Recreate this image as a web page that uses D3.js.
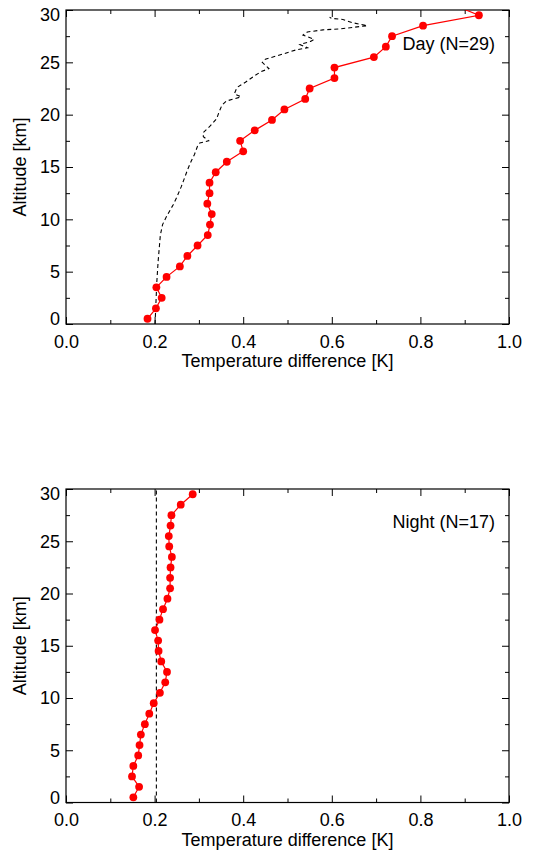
<!DOCTYPE html>
<html>
<head>
<meta charset="utf-8">
<script src="https://cdn.jsdelivr.net/npm/d3@7"></script>
<style>
  body { margin: 0; background: #fff; }
  text { font-family: "Liberation Sans", Arial, sans-serif; }
</style>
</head>
<body>
<div class="canva"></div>
<script>
// altitudes of the red profiles (km)
const dayAlt = [0.5, 1.5, 2.5, 3.5, 4.5, 5.5, 6.5, 7.5, 8.5, 9.5, 10.5, 11.5, 12.5, 13.5, 14.5,
    15.5, 16.5, 17.5, 18.5, 19.5, 20.5, 21.5, 22.5, 23.5, 24.5, 25.5, 26.5, 27.5, 28.5, 29.5, 30.5];
const dayMean = [0.184, 0.203, 0.216, 0.204, 0.227, 0.257, 0.274, 0.297, 0.320, 0.325, 0.329, 0.319,
    0.324, 0.324, 0.338, 0.363, 0.400, 0.393, 0.426, 0.465, 0.493, 0.540, 0.550, 0.606, 0.606, 0.695,
    0.722, 0.736, 0.806, 0.932, 0.874];

// dashed day reference
const dayRefAlt = [0, 2, 4, 6, 7.5, 8.5, 9.5, 10.2, 10.8, 11.4, 12.1, 13.1, 14.0, 14.8, 15.6, 16.2,
    17.0, 17.3, 17.5, 17.9, 18.3, 18.9, 19.6, 20.2, 20.9, 21.3, 21.7, 22.0, 22.6, 23.1, 23.7, 24.1,
    24.4, 25.0, 25.3, 25.8, 26.2, 26.4, 26.7, 27.0, 27.2, 27.6, 27.9, 28.1, 28.2, 28.5, 28.8, 29.1,
    29.2, 29.3];
const dayRef = [0.201, 0.203, 0.205, 0.208, 0.211, 0.213, 0.218, 0.226, 0.234, 0.242, 0.250, 0.260,
    0.268, 0.275, 0.283, 0.290, 0.297, 0.302, 0.322, 0.310, 0.310, 0.325, 0.340, 0.345, 0.352, 0.362,
    0.395, 0.380, 0.386, 0.405, 0.425, 0.440, 0.458, 0.443, 0.450, 0.490, 0.520, 0.545, 0.528, 0.552,
    0.560, 0.535, 0.545, 0.580, 0.620, 0.680, 0.645, 0.625, 0.600, 0.595];

const nightAlt = [0.5, 1.5, 2.5, 3.5, 4.5, 5.5, 6.5, 7.5, 8.5, 9.5, 10.5, 11.5, 12.5, 13.5, 14.5,
    15.5, 16.5, 17.5, 18.5, 19.5, 20.5, 21.5, 22.5, 23.5, 24.5, 25.5, 26.5, 27.5, 28.5, 29.5];
const nightMean = [0.152, 0.165, 0.149, 0.152, 0.163, 0.166, 0.169, 0.178, 0.188, 0.198, 0.212, 0.224,
    0.228, 0.215, 0.209, 0.208, 0.201, 0.211, 0.219, 0.229, 0.235, 0.235, 0.236, 0.239, 0.233, 0.232,
    0.236, 0.238, 0.259, 0.286];

const nightRefAlt = [0, 30];
const nightRef = [0.204, 0.204];

const xMajor = [0, 0.2, 0.4, 0.6, 0.8, 1.0];
const xMinor = [0.1, 0.3, 0.5, 0.7, 0.9];
const yMajor = [0, 5, 10, 15, 20, 25, 30];
const yMinor = [2.5, 7.5, 12.5, 17.5, 22.5, 27.5];

const svg = d3.select(".canva").append("svg")
    .attr("width", 533)
    .attr("height", 850);

const left = 66, right = 509;

function panel(top, bottom, label, alt, mean, refAlt, ref, id) {
    const x = d3.scaleLinear().domain([0, 1]).range([left, right]);
    const y = d3.scaleLinear().domain([0, 30]).range([bottom, top]);
    const g = svg.append("g");

    g.append("clipPath").attr("id", id)
        .append("rect")
        .attr("x", left).attr("y", top)
        .attr("width", right - left).attr("height", bottom - top);

    // axes, ticks point inward
    const addAxis = (axis, tr, vals, size, labels) => {
        const a = g.append("g")
            .attr("transform", tr)
            .call(axis.tickValues(vals).tickSize(-size).tickSizeOuter(0)
                .tickFormat(labels ? labels : ""));
        a.select(".domain").remove();
        a.selectAll("line").attr("stroke", "#000");
        return a;
    };

    const xb = addAxis(d3.axisBottom(x).tickPadding(11), `translate(0,${bottom})`, xMajor, 7, d3.format(".1f"));
    addAxis(d3.axisBottom(x), `translate(0,${bottom})`, xMinor, 4);
    addAxis(d3.axisTop(x), `translate(0,${top})`, xMajor, 7);
    addAxis(d3.axisTop(x), `translate(0,${top})`, xMinor, 4);
    const yl = addAxis(d3.axisLeft(y).tickPadding(6), `translate(${left},0)`, yMajor, 7, d3.format("d"));
    addAxis(d3.axisLeft(y), `translate(${left},0)`, yMinor, 4);
    addAxis(d3.axisRight(y), `translate(${right},0)`, yMajor, 7);
    addAxis(d3.axisRight(y), `translate(${right},0)`, yMinor, 4);

    xb.selectAll("text").attr("font-size", 18).attr("fill", "#000")
        .attr("font-family", "Liberation Sans, Arial, sans-serif");
    yl.selectAll("text").attr("font-size", 18).attr("fill", "#000")
        .attr("font-family", "Liberation Sans, Arial, sans-serif");
    // end labels kept inside the box like IDL does
    yl.selectAll(".tick text").filter(d => d === 0).attr("dy", "0.05em");
    yl.selectAll(".tick text").filter(d => d === 30).attr("dy", "0.6em");

    g.append("rect")
        .attr("x", left).attr("y", top)
        .attr("width", right - left).attr("height", bottom - top)
        .attr("fill", "none").attr("stroke", "#000").attr("stroke-width", 1.2);

    const plot = g.append("g").attr("clip-path", `url(#${id})`);

    const refLine = d3.line().x(d => x(d[0])).y(d => y(d[1]));
    plot.append("path")
        .datum(ref.map((v, i) => [v, refAlt[i]]))
        .attr("d", refLine)
        .attr("fill", "none")
        .attr("stroke", "#000")
        .attr("stroke-width", 1.1)
        .attr("stroke-dasharray", "4,3");

    const pts = mean.map((v, i) => [v, alt[i]]);
    plot.append("path")
        .datum(pts)
        .attr("d", refLine)
        .attr("fill", "none")
        .attr("stroke", "#ff0000")
        .attr("stroke-width", 1.2);

    plot.selectAll("circle")
        .data(pts)
        .enter().append("circle")
        .attr("cx", d => x(d[0]))
        .attr("cy", d => y(d[1]))
        .attr("r", 3.9)
        .attr("fill", "#ff0000");

    g.append("text")
        .attr("x", right - 14)
        .attr("y", top + label[1])
        .attr("text-anchor", "end")
        .attr("font-size", 18)
        .text(label[0]);

    g.append("text")
        .attr("x", (left + right) / 2)
        .attr("y", bottom + 43)
        .attr("text-anchor", "middle")
        .attr("font-size", 18)
        .text("Temperature difference [K]");

    g.append("text")
        .attr("transform", `translate(26,${(top + bottom) / 2}) rotate(-90)`)
        .attr("text-anchor", "middle")
        .attr("font-size", 18)
        .text("Altitude [km]");
}

panel(10, 324, ["Day (N=29)", 40], dayAlt, dayMean, dayRefAlt, dayRef, "clipDay");
panel(489, 802.5, ["Night (N=17)", 39], nightAlt, nightMean, nightRefAlt, nightRef, "clipNight");
</script>
</body>
</html>
